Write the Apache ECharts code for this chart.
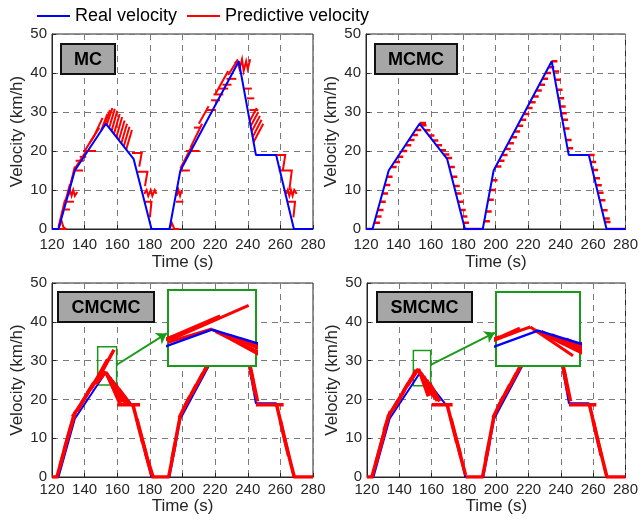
<!DOCTYPE html>
<html><head><meta charset="utf-8">
<script src="https://cdn.jsdelivr.net/npm/echarts@6/dist/echarts.min.js"></script>
<style>html,body{margin:0;padding:0;background:#fff}#c{width:641px;height:521px}</style>
</head><body><div id="c"></div>
<script>
const xTicks = [120,140,160,180,200,220,240,260,280];
const yTicks = [0,10,20,30,40,50];
const panelNames = ['MC','MCMC','CMCMC','SMCMC'];
const legendNames = ['Real velocity','Predictive velocity'];

// real velocity profile (time s, km/h)
const realTime  = [120,124,134,153,170,181,192,198.7,234.5,245,257.4,268.3,280];
const realSpeed = [0,0,15,27,18,0,0,15,43,19,19,0,0];

// MC predictions: polylines [[t,v],...]
const mcPred = [
 [[120,0],[129,0]],
 [[124,0],[125.5,2.5],[127,0.5],[128.5,0]],
 [[124,0.5],[128,7.5]],[[127.5,6],[131,11.5]],[[130.5,10],[134,16]],
 [[128,5],[131,5]],
 [[129,7],[133.5,7]],
 [[130,8.5],[131,10],[132,8.5],[133,10],[134,8.5],[135.5,9.5]],
 [[133,15],[139,15]],
 [[134.5,17.5],[139.5,17.5]],
 [[137,18.5],[141,18.5]],
 [[139,20],[147,20]],
 [[134,15.5],[141,20]],
 [[140,20],[146,24]],
 [[143,22],[149,26]],
 [[146,24],[151,28.5]],
 [[150,25.1],[154,29.5]],
 [[152,26.4],[155.5,30.5]],
 [[153.5,26.7],[157,31]],
 [[155,25.9],[158.5,30.8]],
 [[156.5,25.1],[160,30.3]],
 [[158,24.4],[161.5,29.5]],
 [[159.5,23.6],[163,28.7]],
 [[161,22.8],[164.5,27.8]],
 [[162.5,22],[166,27]],
 [[164,21.2],[167.5,26.2]],
 [[165.5,20.4],[169,25.4]],
 [[169,19.5],[175,19.5],[173.5,16]],
 [[172.5,14.7],[178.5,14.7],[177,11]],
 [[176.5,9],[178,10],[179,8.5],[180.5,10],[181.5,8.5],[183,10],[184,9]],
 [[177,7],[181,7],[180,3]],
 [[181,0],[192,0]],
 [[192,0],[193.5,1.5],[195,0],[198,0]],
 [[196,7],[200.5,7]],
 [[196.5,8.5],[197.5,10],[198.5,8.5],[199.5,10]],
 [[198.5,15],[204.5,15]],
 [[202,20],[210.5,20]],
 [[198.7,15.5],[206,21.5]],
 [[205,21],[212,27]],
 [[207,26],[211,26]],
 [[210,27],[216,31.5]],
 [[214.5,30.5],[220.5,30.5]],
 [[217.5,33],[223,33]],
 [[219,34.5],[225,34.5]],
 [[222,36],[228,36]],
 [[224.5,37],[230,37]],
 [[227,38.5],[233,38.5]],
 [[220,34.5],[228,40.5]],
 [[228,39.5],[234,43.5]],
 [[232,42.5],[233.5,43],[235,41],[236.5,43.5],[237.5,40.5],[239,43],[240,41],[241.5,43.5]],
 [[238,36],[242.5,36]],
 [[239.5,33.5],[244,33.5]],
 [[241,30.5],[246.5,30.5]],
 [[241.2,27.7],[245.5,31]],
 [[241.8,26.4],[246.5,30]],
 [[242.4,25],[247.5,29]],
 [[243,23.6],[248.5,28]],
 [[243.6,22.3],[249.5,27]],
 [[245,19],[263,19],[261.5,15]],
 [[259,15],[267,15],[265.5,10]],
 [[263.5,9],[264.5,10],[265.5,8.5],[266.5,10],[267.5,8.5],[268.5,10],[270,9]],
 [[264.5,7],[269,7],[268,3]],
 [[268,0],[280,0]]
];

// MCMC predictions: horizontal dashes [tStart, tEnd, v]
const mcmcPred = [
 [120,124,0],[181,192,0],[268,280,0],
 [125.1,128.6,1.6],[126.1,129.6,3.2],[127.3,130.8,4.9],[128.7,132.2,7],[130.1,133.6,9.1],[131.5,135,11.3],[132.9,136.4,13.4],
 [135.4,138.9,15.9],[137.5,141,17.2],[139.5,143,18.5],[141.9,145.4,20],[144.4,147.9,21.5],[146.4,149.9,22.8],[148.5,152,24.1],[150.6,154.1,25.4],[152.7,156.2,26.7],
 [153,157,27.2],
 [153.8,157.3,26.6],[156.2,159.7,25.3],[158.7,162.2,24],[161.1,164.6,22.7],[163.4,166.9,21.5],[165.8,169.3,20.2],[167.9,171.4,19.1],[169.6,173.1,18.2],
 [171.3,174.8,15.9],[172.8,176.3,13.4],[174.3,177.8,11],[175.4,178.9,9.1],[176.7,180.2,7],[178,181.5,4.9],[179,182.5,3.2],[180,183.5,1.6],
 [192.9,196.4,2],[194,197.5,4.5],[195.3,198.8,7.5],[196.5,200,10],[197.6,201.1,12.5],
 [200,203.5,16],[201.9,205.4,17.5],[203.8,207.3,19],[205.7,209.2,20.5],[207.7,211.2,22],[209.6,213.1,23.5],[211.5,215,25],[213.4,216.9,26.5],[215.3,218.8,28],[217.2,220.7,29.5],[219.2,222.7,31],[221.1,224.6,32.5],[223,226.5,34],[224.9,228.4,35.5],[226.9,230.4,37],[228.8,232.3,38.5],[230.6,234.1,40],[232.6,236.1,41.5],[234.5,238,43],
 [235.6,239.1,40.4],[236.6,240.1,38.3],[237.7,241.2,35.7],[238.7,242.2,33.5],[239.6,243.1,31.4],[240.3,243.8,29.7],[241.1,244.6,28],[242,245.5,25.8],[243.3,246.8,22.8],[244.2,247.7,20.7],
 [257.4,261,19],
 [258.4,261.9,17.2],[259.6,263.1,15.1],[260.8,264.3,13],[261.9,265.4,11.2],[263,266.5,9.3],[264.1,267.6,7.4],[265.5,269,4.8],[266.8,270.3,2.7],[267.3,270.8,1.8]
];

// CMCMC predictions
const cmcmcPred = [
 [[120,0],[124,0]],
 [[123,0],[128,7.5]],[[125,3],[130.5,11.5]],[[127.5,7],[133.5,16]],[[130.5,11.5],[134.5,17]],
 [[132.5,15.5],[139.5,20]],[[135.5,17],[142.5,22]],[[138.5,19.3],[145.5,24.2]],[[141.5,21.5],[147.5,25.3]],[[143.5,22.5],[148.5,25.8]],
 [[147,24],[153,27.2]],
 [[147.2,24.5],[158,32.8]],
 [[147.2,25.1],[154.1,30.3]],
 [[153,27],[163,20]],[[153.5,26.5],[162,19.5]],[[154,26.2],[161.5,19]],[[155.5,25.6],[163.5,19.3]],
 [[157,24.8],[165,19.1]],[[159,23.8],[166,19.2]],[[161,22.7],[167.5,19]],
 [[160,18.6],[174,18.6]],
 [[169.5,18.8],[175.5,9]],[[172,15],[178,5.5]],[[175,10],[181,0.5]],[[177.5,6],[182,0]],
 [[181,0],[192,0]],
 [[191.5,0],[195.5,8.5]],[[193.5,4.5],[198.5,15.5]],
 [[198,15.3],[204.5,20.8]],[[201.5,18.3],[208.5,23.8]],[[205.5,21.3],[212.5,26.8]],[[209.5,24.3],[216.5,29.8]],[[213.5,27.3],[221.5,33.8]],
 [[220,31.5],[230,39.5]],[[228,37.5],[235,43.5]],
 [[235,43],[240.5,31]],[[239,34],[243,25]],[[240.5,30.5],[244.5,21.5]],[[242,27.5],[246,19.5]],
 [[245,18.6],[262,18.6]],
 [[257.5,19],[262.5,10]],[[260,14.5],[265,5.5]],[[262.5,10],[268.5,0]],
 [[268,0],[280,0]]
];

// SMCMC predictions
const smcmcPred = [
 [[120,0],[124,0]],
 [[123,0],[128,7.5]],[[125.5,3.5],[131,12]],[[128,7.5],[133.5,16]],[[130.5,12],[134.5,17]],
 [[133,15.5],[139.5,20]],[[136.5,17.5],[143,22.2]],[[139.5,19.8],[145.5,24.2]],[[142.5,22],[147.5,25.5]],
 [[145,23.5],[150.4,27],[151.9,27.9]],
 [[147.3,25.2],[150.4,27.6]],
 [[151.9,27.9],[158,20.8]],[[152.5,27.2],[159.5,21.3]],[[153.5,26.8],[160.5,21]],
 [[155,26],[162,20.3]],[[157,25],[163.5,19.6]],[[159,24],[165,19.5]],
 [[160,18.6],[173,18.6]],
 [[169.5,18.8],[175.5,9]],[[172,15],[178,5.5]],[[175,10],[181,0.5]],
 [[181,0],[192,0]],
 [[191.5,0],[195.5,8.5]],[[193.5,4.5],[198.5,15.5]],
 [[198,15.3],[204.5,20.8]],[[201.5,18.3],[208.5,23.8]],[[205.5,21.3],[212.5,26.8]],[[209.5,24.3],[216.5,29.8]],[[213.5,27.3],[221.5,33.8]],
 [[220,31.5],[230,39.5]],[[228,37.5],[235,43]],
 [[235,43],[240.5,31]],[[239,34],[243,25]],[[240.5,30.5],[244.5,21.5]],[[242,27.5],[246,19.5]],
 [[245,18.6],[262,18.6]],
 [[257.5,19],[262.5,10]],[[260,14.5],[265,5.5]],[[262.5,10],[268.5,0]],
 [[268,0],[280,0]]
];

// inset zoom ranges, small boxes and arrows (data coords)
const insetTime  = [147,159];
const insetSpeed = [18.3,36.5];
const cmcmcBox   = [[148,23.7],[159.6,33.6]];
const smcmcBox   = [[148.7,23.5],[159.4,32.6]];
const cmcmcArrow = [[160,29],[190.3,37]];
const smcmcArrow = [[159.4,28.9],[199.1,37.2]];

const F = 'Liberation Sans, Arial, Helvetica, sans-serif';
const TXT = '#262626';
const G = '#1a9a1a';
const BLUE = '#0000ff', RED = '#ff0000';

const realData = realTime.map((t,i)=>[t, realSpeed[i]]);

const grids = [
 {left:52, top:34, width:261, height:195},
 {left:366, top:34, width:261, height:195},
 {left:52, top:283, width:261, height:194},
 {left:367, top:283, width:260, height:194}
].map(g=>Object.assign(g,{show:true, borderColor:TXT, borderWidth:1, backgroundColor:'transparent'}));
grids.push({left:168, top:290, width:88, height:76, show:true, backgroundColor:'#fff', borderColor:G, borderWidth:2, z:20});
grids.push({left:496, top:292, width:84, height:74, show:true, backgroundColor:'#fff', borderColor:G, borderWidth:2, z:20});

const xAxes = [], yAxes = [];
for (let i=0;i<4;i++){
  const top = i<2;
  xAxes.push({type:'value', gridIndex:i, min:xTicks[0], max:xTicks[xTicks.length-1], interval:xTicks[1]-xTicks[0],
    name:'Time (s)', nameLocation:'middle', nameGap:(top?25:17),
    nameTextStyle:{fontSize:17, color:TXT, fontFamily:F},
    axisLine:{show:true, onZero:false, lineStyle:{color:TXT, width:1}},
    axisTick:{show:true, inside:true, length:4, lineStyle:{color:TXT}},
    axisLabel:{fontSize:15, color:TXT, margin:(top?8:5), fontFamily:F},
    splitLine:{show:true, lineStyle:{color:'#7a7a7a', type:[6,5], width:1}}});
  yAxes.push({type:'value', gridIndex:i, min:yTicks[0], max:yTicks[yTicks.length-1], interval:yTicks[1]-yTicks[0],
    name:'Velocity (km/h)', nameLocation:'middle', nameGap:26, nameRotate:90,
    nameTextStyle:{fontSize:17, color:TXT, fontFamily:F},
    axisLine:{show:true, onZero:false, lineStyle:{color:TXT, width:1}},
    axisTick:{show:true, inside:true, length:4, lineStyle:{color:TXT}},
    axisLabel:{fontSize:15, color:TXT, margin:5, fontFamily:F},
    splitLine:{show:true, lineStyle:{color:'#7a7a7a', type:[6,5], width:1}}});
}
for (let i=4;i<6;i++){
  xAxes.push({type:'value', gridIndex:i, min:insetTime[0], max:insetTime[1], show:false, splitLine:{show:false}});
  yAxes.push({type:'value', gridIndex:i, min:insetSpeed[0], max:insetSpeed[1], show:false, splitLine:{show:false}});
}

const predSets = [
  mcPred,
  mcmcPred.map(d=>[[d[0],d[2]],[d[1],d[2]]]),
  cmcmcPred,
  smcmcPred
];
const series = [];
for (let i=0;i<4;i++){
  const bottom = i>=2;
  series.push({type:'lines', name:legendNames[1], coordinateSystem:'cartesian2d', xAxisIndex:i, yAxisIndex:i,
    polyline:true, silent:true, z:(bottom?5:3), clip:true,
    data:predSets[i].map(p=>({coords:p})),
    lineStyle:{color:RED, width:(bottom?3.5:(i===1?2.5:2)), opacity:1}});
  series.push({type:'line', name:legendNames[0], xAxisIndex:i, yAxisIndex:i, data:realData,
    showSymbol:false, symbol:'none', silent:true, z:4, clip:true,
    lineStyle:{color:BLUE, width:2}, itemStyle:{color:BLUE}});
}
// insets
[[4,cmcmcPred],[5,smcmcPred]].forEach(([gi,pred])=>{
  series.push({type:'lines', name:legendNames[1], coordinateSystem:'cartesian2d', xAxisIndex:gi, yAxisIndex:gi,
    polyline:true, silent:true, z:21, clip:true,
    data:pred.map(p=>({coords:p})),
    lineStyle:{color:RED, width:3, opacity:1}});
  series.push({type:'line', name:legendNames[0], xAxisIndex:gi, yAxisIndex:gi, data:realData,
    showSymbol:false, symbol:'none', silent:true, z:22, clip:true,
    lineStyle:{color:BLUE, width:2.5}, itemStyle:{color:BLUE}});
});
// zoom boxes and arrows
[[2,cmcmcBox,cmcmcArrow],[3,smcmcBox,smcmcArrow]].forEach(([gi,box,arr])=>{
  series.push({type:'line', xAxisIndex:gi, yAxisIndex:gi, data:[], z:25, silent:true,
    markArea:{silent:true, itemStyle:{color:'rgba(0,0,0,0)', borderColor:G, borderWidth:1.5}, label:{show:false},
      data:[[{coord:box[0]},{coord:box[1]}]]},
    markLine:{silent:true, symbol:['none','arrow'], symbolSize:10, label:{show:false},
      lineStyle:{color:G, width:2, type:'solid'},
      data:[[{coord:arr[0]},{coord:arr[1]}]]}});
});

// panel label boxes
const boxes = [
  {x:61, y:44, w:54, h:30},
  {x:375, y:44, w:82, h:30},
  {x:58, y:292, w:96, h:30},
  {x:377, y:292, w:95, h:30}
];
const graphic = [];
boxes.forEach((b,i)=>{
  graphic.push({type:'rect', x:b.x, y:b.y, z:30, shape:{width:b.w, height:b.h},
    style:{fill:'#a6a6a6', stroke:'#111', lineWidth:2}});
  graphic.push({type:'text', x:b.x+b.w/2, y:b.y+b.h/2+1, z:31,
    style:{text:panelNames[i], fill:'#000', fontSize:18, fontWeight:'bold', fontFamily:F, align:'center', verticalAlign:'middle'}});
});

const chart = echarts.init(document.getElementById('c'), null, {renderer:'canvas'});
chart.setOption({
  animation:false,
  backgroundColor:'#fff',
  legend:{top:7, left:37, padding:0, itemWidth:33, itemHeight:2, itemGap:10,
    textStyle:{fontSize:18, color:'#000', fontFamily:F},
    data:[
      {name:legendNames[0], icon:'rect', itemStyle:{color:BLUE, borderWidth:0}, lineStyle:{width:0}},
      {name:legendNames[1], icon:'rect', itemStyle:{color:RED, borderWidth:0}, lineStyle:{width:0}}
    ],
    selectedMode:false},
  grid:grids, xAxis:xAxes, yAxis:yAxes, series:series, graphic:graphic
});
</script></body></html>
